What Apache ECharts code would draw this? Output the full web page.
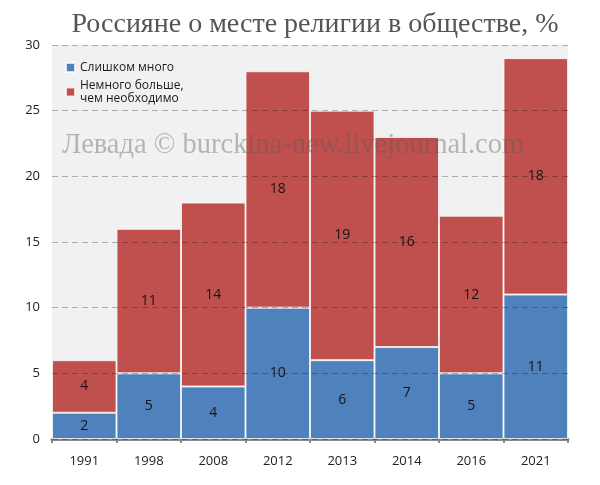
<!DOCTYPE html>
<html>
<head>
<meta charset="utf-8">
<script src="https://cdn.jsdelivr.net/npm/echarts@6/dist/echarts.min.js"></script>
<style>
  html, body { margin: 0; padding: 0; background: #fff; }
  #main { width: 600px; height: 485px; }
</style>
</head>
<body>
<div id="main"></div>
<script>
// данные опроса Левада-центра
const years = ['1991', '1998', '2008', '2012', '2013', '2014', '2016', '2021']
const tooMuch = [2, 5, 4, 10, 6, 7, 5, 11]
const moreThanNeeded = [4, 11, 14, 18, 19, 16, 12, 18]
const yTicks = [0, 5, 10, 15, 20, 25, 30]

const chart = echarts.init(document.getElementById('main'))

const labelStyle = {
	show: true,
	position: 'inside',
	color: '#151515',
	fontSize: 14,
	fontFamily: 'Open Sans'
}

chart.setOption({
	animation: false,
	title: {
		text: 'Россияне о месте религии в обществе, %',
		left: 310,
		textAlign: 'center',
		top: 6,
		textStyle: {
			fontFamily: 'Liberation Serif',
			fontWeight: 'normal',
			fontSize: 28,
			color: '#555'
		}
	},
	legend: {
		orient: 'vertical',
		left: 60,
		top: 56,
		itemWidth: 9,
		itemHeight: 9,
		itemGap: 5,
		icon: 'rect',
		textStyle: { fontSize: 12, color: '#1a1a1a', fontFamily: 'Open Sans', lineHeight: 13 },
		data: ['Слишком много', 'Немного больше,\nчем необходимо']
	},
	grid: {
		left: 52, right: 32, top: 45, bottom: 46,
		show: true,
		backgroundColor: '#f1f1f1',
		borderWidth: 0
	},
	graphic: [{
		type: 'text',
		left: 62,
		top: 131,
		z: 100,
		style: {
			text: 'Левада © burckina-new.livejournal.com',
			fontFamily: 'Liberation Serif',
			fontSize: 28.5,
			fill: 'rgba(90,90,90,0.4)'
		}
	}],
	xAxis: {
		type: 'category',
		data: years,
		axisLine: { lineStyle: { color: '#8a8a8a', width: 3 } },
		axisTick: { show: true, length: 4, lineStyle: { color: '#8a8a8a', width: 2 } },
		axisLabel: { color: '#222', fontSize: 13, fontFamily: 'Open Sans', margin: 16 }
	},
	yAxis: {
		type: 'value',
		min: yTicks[0],
		max: yTicks[yTicks.length - 1],
		interval: 5,
		z: 5,
		axisLine: { show: false },
		axisTick: { show: false },
		axisLabel: { color: '#222', fontSize: 13, fontFamily: 'Open Sans', margin: 12 },
		splitLine: { lineStyle: { type: [6, 4], color: 'rgba(0,0,0,0.28)', width: 1 } }
	},
	series: [
		{
			name: 'Слишком много',
			type: 'bar',
			stack: 'a',
			barCategoryGap: 0,
			data: tooMuch,
			itemStyle: { color: '#4f81bd', borderColor: 'rgba(255,255,255,0.75)', borderWidth: 1 },
			label: labelStyle
		},
		{
			name: 'Немного больше,\nчем необходимо',
			type: 'bar',
			stack: 'a',
			barCategoryGap: 0,
			data: moreThanNeeded,
			itemStyle: { color: '#c0504d', borderColor: 'rgba(255,255,255,0.75)', borderWidth: 1 },
			label: labelStyle
		}
	]
})
</script>
</body>
</html>
